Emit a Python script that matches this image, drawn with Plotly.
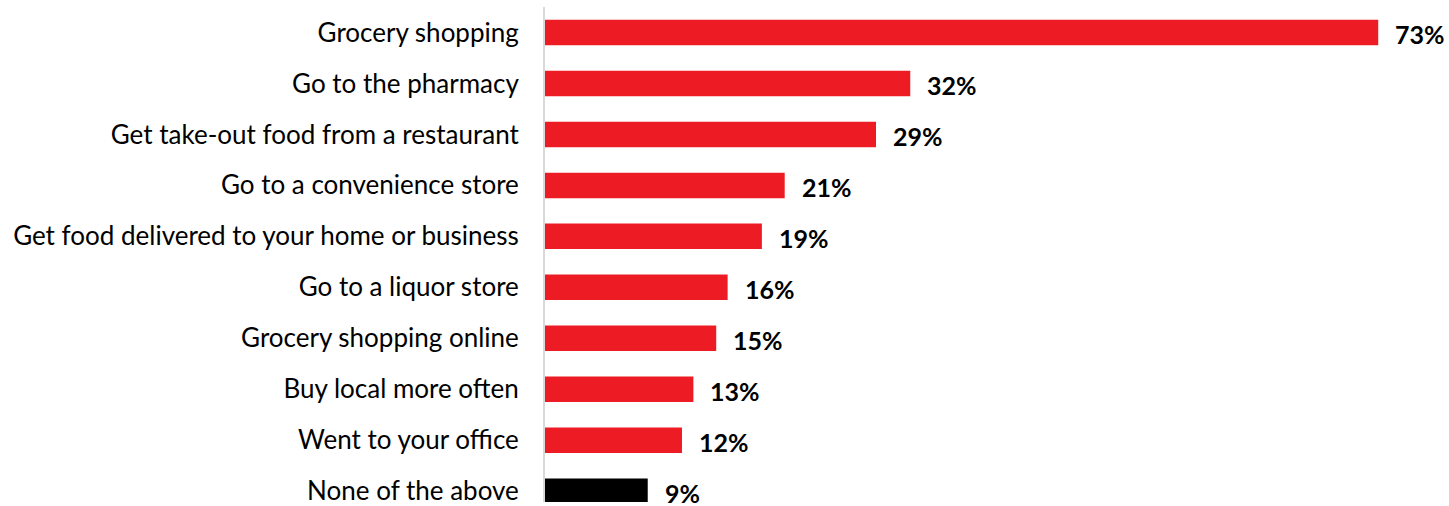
import plotly.graph_objects as go

categories = [
    "Grocery shopping",
    "Go to the pharmacy",
    "Get take-out food from a restaurant",
    "Go to a convenience store",
    "Get food delivered to your home or business",
    "Go to a liquor store",
    "Grocery shopping online",
    "Buy local more often",
    "Went to your office",
    "None of the above",
]
values = [73, 32, 29, 21, 19, 16, 15, 13, 12, 9]
bar_colors = ["#ED1C24"] * 9 + ["#000000"]

FONT = "Lato, Carlito, Calibri, sans-serif"

fig = go.Figure()
fig.add_trace(go.Bar(
    x=values,
    y=categories,
    orientation="h",
    marker=dict(color=bar_colors, line=dict(width=0)),
    hoverinfo="skip",
))

for c, v in zip(categories, values):
    fig.add_annotation(
        x=v, y=c, text=f"<b>{v}%</b>", showarrow=False,
        xanchor="left", xshift=15, yshift=-2,
        font=dict(family=FONT, size=25, color="#000000"),
    )

fig.update_layout(
    width=1449, height=506,
    margin=dict(l=545, r=0, t=7, b=0, pad=0),
    paper_bgcolor="white", plot_bgcolor="white",
    bargap=0.5,
    showlegend=False,
    xaxis=dict(range=[0, 79.2], visible=False, fixedrange=True),
    yaxis=dict(
        categoryorder="array", categoryarray=categories,
        range=[9.212, -0.5], fixedrange=True,
        showline=True, linecolor="#D9D9D9", linewidth=2,
        showgrid=False, zeroline=False,
        ticks="outside", ticklen=19, tickcolor="rgba(0,0,0,0)",
        tickfont=dict(family=FONT, size=26, color="#000000"),
    ),
)

fig.write_html(
    "out.html",
    config={"displayModeBar": False},
    post_script="document.body.style.margin='0';document.body.style.overflow='hidden';",
)
